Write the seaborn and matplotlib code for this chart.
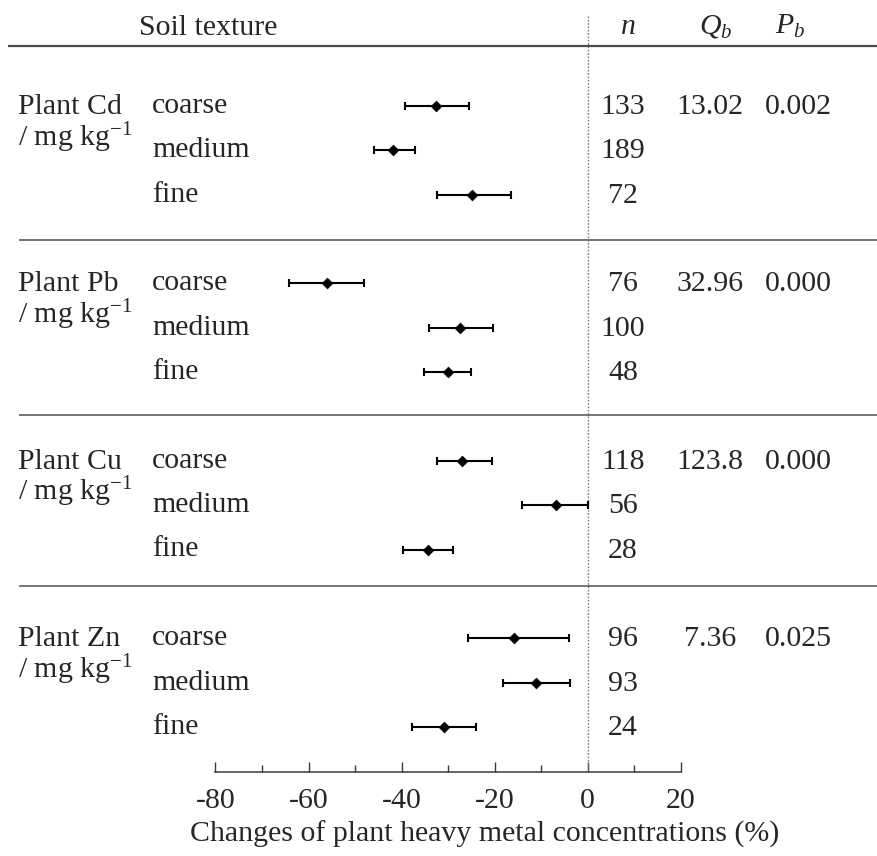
import numpy as np
import pandas as pd
import matplotlib
matplotlib.use("Agg")
import matplotlib.pyplot as plt
import seaborn as sns

# ---- data -------------------------------------------------------------
metals = ["Plant Cd", "Plant Pb", "Plant Cu", "Plant Zn"]
textures = ["coarse", "medium", "fine"]

effect_mean = [-32.5, -41.8, -24.8,
               -56.1, -27.5, -30.0,
               -27.0, -6.9, -34.3,
               -15.8, -11.1, -30.8]
ci_low = [-39.2, -46.0, -32.3,
          -64.2, -34.0, -35.2,
          -32.4, -14.2, -39.7,
          -25.7, -18.3, -37.8]
ci_high = [-25.5, -37.1, -16.5,
           -48.0, -20.3, -25.1,
           -20.6, 0.0, -29.0,
           -4.0, -3.7, -23.9]
n_obs = [133, 189, 72,
         76, 100, 48,
         118, 56, 28,
         96, 93, 24]
q_b = ["13.02", "32.96", "123.8", "7.36"]
p_b = ["0.002", "0.000", "0.000", "0.025"]

x_major = [-80, -60, -40, -20, 0, 20]
x_minor = [-70, -50, -30, -10, 10]

# ---- figure & style ---------------------------------------------------
sns.set_style("white")
plt.rcParams["font.family"] = ["Liberation Serif", "DejaVu Serif"]
plt.rcParams["mathtext.fontset"] = "custom"
plt.rcParams["mathtext.rm"] = "Liberation Serif"
plt.rcParams["mathtext.it"] = "Liberation Serif:italic"
plt.rcParams["mathtext.bf"] = "Liberation Serif:bold"

W, H, DPI = 877, 856, 100
FS = 21.5
fig = plt.figure(figsize=(W / DPI, H / DPI), dpi=DPI)
ax = fig.add_axes([0, 0, 1, 1])

# pixel-based layout helpers (x: value scale, y: row scale)
PX_PER_UNIT = 4.653
X_ZERO_PX = 587.7
ROW0_PX = 106.0
ROW_PITCH = 44.35


def fx(px):
    return (px - X_ZERO_PX) / PX_PER_UNIT


def fy(px):
    return (px - ROW0_PX) / ROW_PITCH


rows = []
for g, metal in enumerate(metals):
    for t, tex in enumerate(textures):
        rows.append(dict(metal=metal, texture=tex, row=4 * g + t))
df = pd.DataFrame(rows)
df["mean"] = effect_mean
df["low"] = ci_low
df["high"] = ci_high
df["n"] = n_obs

# confidence intervals
ax.errorbar(df["mean"], df["row"],
            xerr=[df["mean"] - df["low"], df["high"] - df["mean"]],
            fmt="none", ecolor="black", elinewidth=1.5,
            capsize=3, capthick=1.5, zorder=2)
# point estimates
sns.scatterplot(data=df, x="mean", y="row", marker="D", s=30,
                color="black", edgecolor="black", linewidth=0.5,
                ax=ax, legend=False, zorder=3)

ax.set_xlim(fx(0), fx(W))
ax.set_ylim(fy(H), fy(0))
ax.set_xlabel("")
ax.set_ylabel("")
ax.set_yticks([])

# zero reference line
axis_y = fy(771.7)
ax.vlines(0, fy(16), axis_y, colors="#7a7a7a", linewidth=1.0,
          linestyles=(0, (1.2, 1.2)), zorder=1)

# horizontal rules
ax.hlines(fy(46), fx(8), fx(W), colors="#4a4a4a", linewidth=1.6, zorder=1)
for ypx in [240, 415, 586]:
    ax.hlines(fy(ypx), fx(19), fx(W), colors="#6a6a6a", linewidth=1.3, zorder=1)

# bottom axis
for side in ["top", "left", "right"]:
    ax.spines[side].set_visible(False)
ax.spines["bottom"].set_position(("data", axis_y))
ax.spines["bottom"].set_bounds(-80, 20)
ax.spines["bottom"].set_color("#3a3a3a")
ax.spines["bottom"].set_linewidth(1.1)
ax.set_xticks(x_major)
ax.set_xticklabels([str(v) for v in x_major], fontsize=FS)
ax.set_xticks(x_minor, minor=True)
ax.tick_params(axis="x", which="major", direction="in", length=7,
               width=1.0, color="#3a3a3a", pad=12, bottom=True)
ax.tick_params(axis="x", which="minor", direction="in", length=5,
               width=1.0, color="#3a3a3a", bottom=True)

ax.text(fx(485), fy(842), "Changes of plant heavy metal concentrations (%)",
        ha="center", va="baseline", fontsize=FS)

# header
ax.text(fx(208), fy(35), "Soil texture", ha="center", va="baseline", fontsize=FS)
ax.text(fx(628), fy(34), "$n$", ha="center", va="baseline", fontsize=FS)
ax.text(fx(716), fy(34), "$Q_b$", ha="center", va="baseline", fontsize=FS)
ax.text(fx(790), fy(34), "$P_b$", ha="center", va="baseline", fontsize=FS)

# row labels and statistics
base_off = 8 / ROW_PITCH
for g, metal in enumerate(metals):
    r0 = 4 * g
    ax.text(fx(18), r0 + base_off, metal, ha="left", va="baseline", fontsize=FS)
    ax.text(fx(18), r0 + 40 / ROW_PITCH, "/ mg kg$^{-1}$", ha="left",
            va="baseline", fontsize=FS)
    ax.text(fx(710), r0 + base_off, q_b[g], ha="center", va="baseline", fontsize=FS)
    ax.text(fx(798), r0 + base_off, p_b[g], ha="center", va="baseline", fontsize=FS)

for _, r in df.iterrows():
    ax.text(fx(152), r["row"] + 7 / ROW_PITCH, r["texture"], ha="left",
            va="baseline", fontsize=FS)
    ax.text(fx(623), r["row"] + base_off, str(r["n"]), ha="center",
            va="baseline", fontsize=FS)

fig.savefig("out.png", dpi=DPI)
